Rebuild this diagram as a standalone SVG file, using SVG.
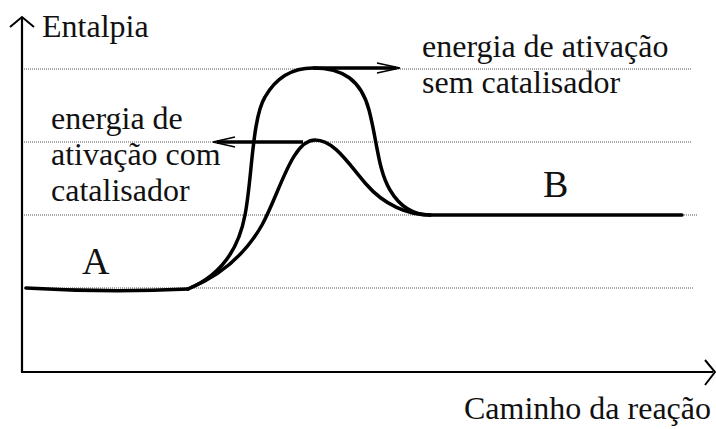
<svg xmlns="http://www.w3.org/2000/svg" width="716" height="429" viewBox="0 0 716 429">
<defs>
<style>
.dot{stroke:#555;stroke-width:1;stroke-dasharray:1 1;fill:none}
.ax{stroke:#000;stroke-width:2.2;fill:none}
.cv{stroke:#000;stroke-width:3.5;fill:none;stroke-linecap:round;stroke-linejoin:round}
.ar{stroke:#000;stroke-width:3.5;fill:none}
.hd{stroke:#000;stroke-width:1.6;fill:none;stroke-linejoin:miter}
</style>
</defs>
<rect width="716" height="429" fill="#fff"/>
<g id="guides">
<line class="dot" x1="24" y1="69" x2="692" y2="69"/>
<line class="dot" x1="24" y1="142" x2="692" y2="142"/>
<line class="dot" x1="24" y1="215" x2="697" y2="215"/>
<line class="dot" x1="24" y1="288" x2="693" y2="288"/>
</g>
<g id="axes">
<line class="ax" x1="22" y1="372" x2="22" y2="18"/>
<path d="M10,27 L22,17 L34,27" stroke="#000" stroke-width="2" fill="none"/>
<line class="ax" x1="21" y1="372" x2="713" y2="372"/>
<path d="M705,360 L715,372 L705,385" stroke="#000" stroke-width="2" fill="none"/>
<text x="42" y="37" style="font-family:'Liberation Serif',serif;font-size:32px;fill:#111">Entalpia</text>
<text x="464" y="419" style="font-family:'Liberation Serif',serif;font-size:32px;fill:#111">Caminho da reação</text>
</g>
<g id="connectors">
<path id="sem-catalisador" class="cv" d="M188,289 C212,279 237,258 245,215 C252,180 252,118 265,97 C277,76 293,68 313,68 C343,68 361,80 369,110 C377,140 378,170 390,190 C400,207 414,215 430,215"/>
<path id="com-catalisador" class="cv" d="M188,289 C220,276 245,255 262,225 C280,192 292,140 315,140 C334,140 348,163 366,184 C384,205 408,215 430,215"/>
<path id="estado-A" class="cv" d="M26,288 Q110,293 188,289"/>
<path id="estado-B" class="cv" d="M430,215 L682,215"/>
<line class="ar" x1="313" y1="68" x2="396" y2="68"/>
<path class="hd" d="M377,63 L400,68 L377,73"/>
<line class="ar" x1="303" y1="142" x2="217" y2="142"/>
<path class="hd" d="M235,137 L213,142 L235,147"/>
</g>
<g id="label-sem">
<text x="422" y="57" style="font-family:'Liberation Serif',serif;font-size:32px;fill:#111">energia de ativação</text>
<text x="422" y="93" style="font-family:'Liberation Serif',serif;font-size:32px;fill:#111">sem catalisador</text>
</g>
<g id="label-com">
<text x="51" y="129" style="font-family:'Liberation Serif',serif;font-size:32px;fill:#111">energia de</text>
<text x="51" y="165" style="font-family:'Liberation Serif',serif;font-size:32px;fill:#111">ativação com</text>
<text x="51" y="201" style="font-family:'Liberation Serif',serif;font-size:32px;fill:#111">catalisador</text>
</g>
<g id="node-A"><text x="82" y="274" style="font-family:'Liberation Serif',serif;font-size:38px;fill:#111">A</text></g>
<g id="node-B"><text x="543" y="197" style="font-family:'Liberation Serif',serif;font-size:38px;fill:#111">B</text></g>
</svg>
